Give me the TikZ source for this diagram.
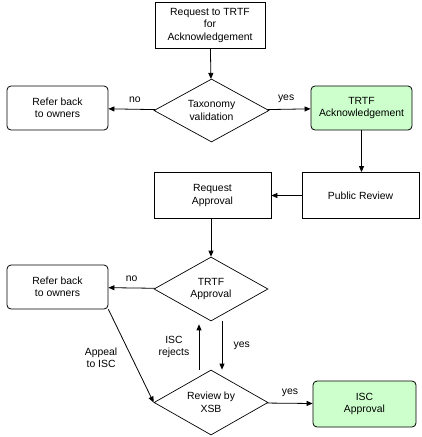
\documentclass[tikz,border=0pt]{standalone}
\usepackage{fontspec}
\setmainfont{Liberation Sans}
\usepackage{tikz}
\usetikzlibrary{shapes.geometric}
\usetikzlibrary{arrows.meta}
\usepackage{xcolor}
\definecolor{ColOk}{RGB}{204,255,204}
\newcommand{\LblFont}{\fontsize{10.4}{12.5}\selectfont}
\tikzstyle{StepBox}=[draw,line width=0.8pt,align=center,inner sep=2pt,minimum width=117pt,minimum height=46pt,
font=\LblFont]
\tikzstyle{EndBox}=[StepBox,rounded corners=4pt,minimum width=101pt,minimum height=44pt]
\tikzstyle{OkBox}=[EndBox,fill=ColOk]
\tikzstyle{Decision}=[diamond,draw,line width=0.7pt,align=center,inner sep=0pt,aspect=1.8,minimum width=114pt,
minimum height=64pt,font=\LblFont]
\tikzstyle{Flow}=[-{Triangle[length=6pt,width=5pt]},line width=0.8pt]
\tikzstyle{FlowLbl}=[align=center,font=\LblFont]

\begin{document}
\begin{tikzpicture}[x=1pt,y=-1pt]
        \useasboundingbox(0,0)rectangle(422,437);
        \node[StepBox,minimum width=110pt](req)at(210,25){Request to TRTF\\for\\Acknowledgement};
        \node[Decision,minimum width=115pt,minimum height=63pt](tax)at(211.5,110.5){Taxonomy\\validation};
        \node[EndBox](refA)at(57.5,108){Refer back\\to owners};
        \node[OkBox](ack)at(361.5,108){TRTF\\Acknowledgement};
        \node[StepBox](pub)at(360.5,195.5){Public Review};
        \node[StepBox](reqA)at(212.5,195.5){Request\\Approval};
        \node[Decision](trtf)at(211,289){TRTF\\Approval};
        \node[EndBox](refB)at(57.5,287){Refer back\\to owners};
        \node[Decision,minimum height=65pt](xsb)at(211,402.5){Review by\\XSB};
        \node[OkBox,minimum width=103pt,minimum height=46pt](isc)at(364.5,404){ISC\\Approval};
        \draw[Flow](req)--(tax);
        \draw[Flow](tax)--node[FlowLbl,above=3pt,xshift=3pt]{no}(refA);
        \draw[Flow](tax)--node[FlowLbl,above=3pt,xshift=-3pt]{yes}(ack);
        \draw[Flow](ack.south)--(ack.south|-pub.north);
        \draw[Flow](pub)--(reqA);
        \draw[Flow](reqA.south-|trtf.north)--(trtf.north);
        \draw[Flow](trtf)--node[FlowLbl,above=3pt]{no}(refB);
        \draw[Flow]([xshift=11pt]trtf.south)--node[FlowLbl,right=8pt]{yes}([xshift=11pt]xsb.north);
        \draw[Flow]([xshift=-12pt]xsb.north)--node[FlowLbl,left=6pt]{ISC\\rejects}([xshift=-12pt,yshift=-3pt]trtf.south);
        \draw[Flow](refB.south east)--node[FlowLbl,left=10pt,yshift=-2pt]{Appeal\\to ISC}(xsb.west);
        \draw[Flow](xsb)--node[FlowLbl,above=3pt]{yes}(isc);
    \end{tikzpicture}
\end{document}
